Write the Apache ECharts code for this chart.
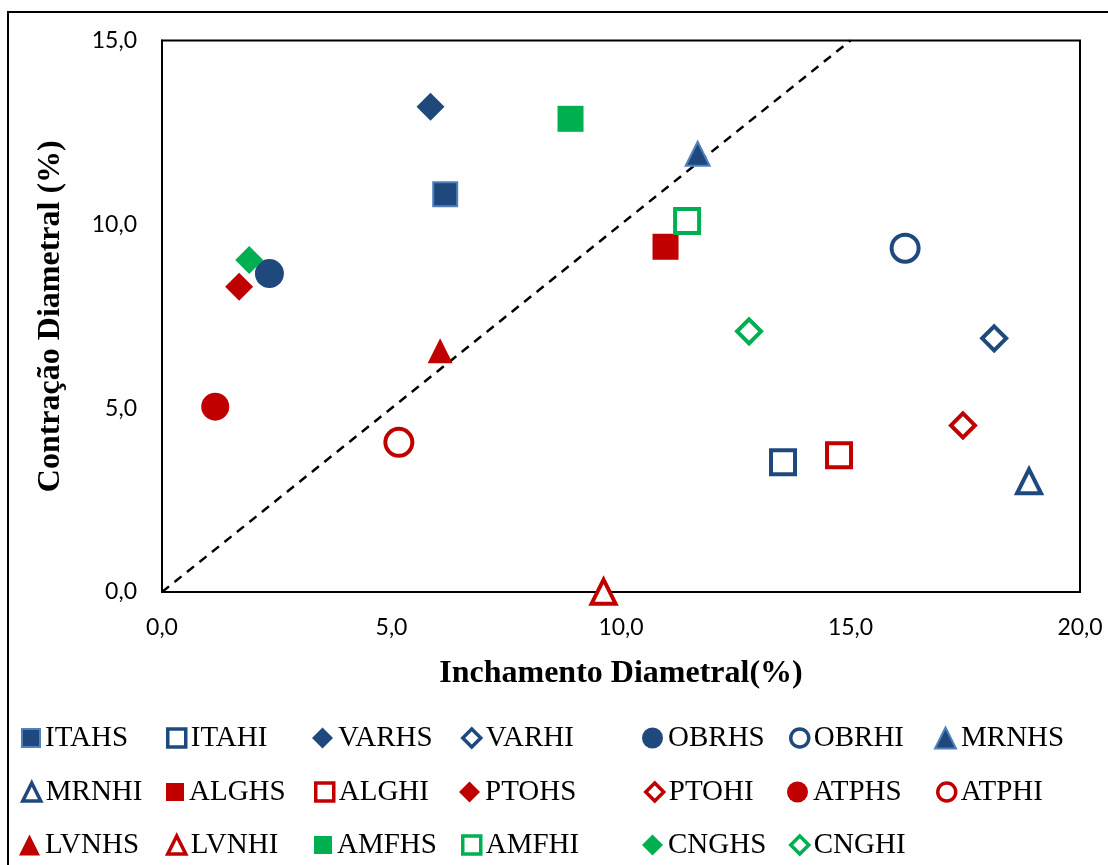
<!DOCTYPE html>
<html>
<head>
<meta charset="utf-8">
<script src="https://cdn.jsdelivr.net/npm/echarts@6/dist/echarts.min.js"></script>
<style>html,body{margin:0;padding:0;background:#fff}#c{width:1108px;height:865px}</style>
</head>
<body>
<div id="c"></div>
<script>
// Series names (legend order, row-major)
const names = ['ITAHS','ITAHI','VARHS','VARHI','OBRHS','OBRHI','MRNHS',
               'MRNHI','ALGHS','ALGHI','PTOHS','PTOHI','ATPHS','ATPHI',
               'LVNHS','LVNHI','AMFHS','AMFHI','CNGHS','CNGHI'];
// Inchamento Diametral (%) per series
const inchamento = [6.17, 13.53, 5.85, 18.13, 2.34, 16.19, 11.67,
                    18.89, 10.97, 14.75, 1.68, 17.45, 1.16, 5.16,
                    6.06, 9.62, 8.90, 11.44, 1.90, 12.79];
// Contração Diametral (%) per series
const contracao = [10.82, 3.53, 13.20, 6.90, 8.66, 9.35, 11.92,
                   3.01, 9.39, 3.72, 8.30, 4.53, 5.04, 4.07,
                   6.56, 0.01, 12.87, 10.09, 9.03, 7.09];
// Reference line y = x
const refLine = [[0, 0], [15, 15]];
const xTicks = [0, 5, 10, 15, 20];
const yTicks = [0, 5, 10, 15];

const BLUE = '#1F497D', RED = '#C00000', GREEN = '#00B050';
const styles = {
  ITAHS: {sym:'rect', size:24, color:BLUE, hollow:false, border:'#4F81BD'},
  ITAHI: {sym:'rect', size:24, color:BLUE, hollow:true},
  VARHS: {sym:'diamond', size:28, color:BLUE, hollow:false},
  VARHI: {sym:'diamond', size:24, color:BLUE, hollow:true},
  OBRHS: {sym:'circle', size:29, color:BLUE, hollow:false},
  OBRHI: {sym:'circle', size:27, color:BLUE, hollow:true},
  MRNHS: {sym:'triangle', size:24, color:BLUE, hollow:false, border:'#4F81BD'},
  MRNHI: {sym:'triangle', size:24, color:BLUE, hollow:true},
  ALGHS: {sym:'rect', size:26, color:RED, hollow:false},
  ALGHI: {sym:'rect', size:24, color:RED, hollow:true},
  PTOHS: {sym:'diamond', size:28, color:RED, hollow:false},
  PTOHI: {sym:'diamond', size:24, color:RED, hollow:true},
  ATPHS: {sym:'circle', size:28, color:RED, hollow:false},
  ATPHI: {sym:'circle', size:27, color:RED, hollow:true},
  LVNHS: {sym:'triangle', size:25, color:RED, hollow:false},
  LVNHI: {sym:'triangle', size:24, color:RED, hollow:true},
  AMFHS: {sym:'rect', size:26, color:GREEN, hollow:false},
  AMFHI: {sym:'rect', size:24, color:GREEN, hollow:true},
  CNGHS: {sym:'diamond', size:28, color:GREEN, hollow:false},
  CNGHI: {sym:'diamond', size:24, color:GREEN, hollow:true}
};

const series = names.map((n, i) => {
  const s = styles[n];
  return {
    name: n,
    type: 'scatter',
    symbol: s.sym,
    symbolSize: s.size,
    data: [[inchamento[i], contracao[i]]],
    itemStyle: s.hollow
      ? {color: '#fff', borderColor: s.color, borderWidth: 4, opacity: 1}
      : {color: s.color, borderColor: s.border || s.color, borderWidth: s.border ? 2 : 0, opacity: 1},
    z: 3
  };
});
series.push({
  name: 'ref', type: 'line', data: refLine, symbol: 'none',
  lineStyle: {color: '#000', width: 2.5, type: [9, 7]}, z: 2, silent: true
});

const colX = [21, 166, 314, 461, 644, 789, 936];
const rowY = [738, 792, 845];
const legends = names.map((n, k) => {
  const s = styles[n];
  const c = k % 7, r = Math.floor(k / 7);
  const big = !s.hollow && s.sym !== 'rect';
  const isz = big ? 21 : 18;
  return {
    left: colX[c] - (big ? 2 : 0), top: rowY[r] - 16, padding: 0,
    itemWidth: isz, itemHeight: isz, itemGap: big ? 4 : 5,
    data: [{name: n, itemStyle: s.hollow ? {borderWidth: 3.5, color: '#fff', borderColor: s.color} : {}}],
    selectedMode: false,
    textStyle: {fontFamily: 'Liberation Serif', fontSize: 29, color: '#000', lineHeight: 32}
  };
});

const chart = echarts.init(document.getElementById('c'), null, {renderer: 'canvas'});
chart.setOption({
  animation: false,
  backgroundColor: '#fff',
  graphic: [{type: 'rect', shape: {x: 8, y: 12, width: 1130, height: 880},
             style: {fill: 'none', stroke: '#000', lineWidth: 2}, silent: true, z: -1}],
  grid: {left: 162, right: 28, top: 40.5, bottom: 273, show: true, borderColor: '#000', borderWidth: 2, backgroundColor: 'transparent'},
  legend: legends,
  xAxis: {
    type: 'value', min: xTicks[0], max: xTicks[xTicks.length - 1], interval: 5,
    name: 'Inchamento Diametral(%)', nameLocation: 'middle', nameGap: 66,
    nameTextStyle: {fontFamily: 'Liberation Serif', fontWeight: 'bold', fontSize: 32, color: '#000'},
    axisLine: {lineStyle: {color: '#000', width: 2}}, axisTick: {show: false}, splitLine: {show: false},
    axisLabel: {fontFamily: 'Lato', fontSize: 23, color: '#000', margin: 24, formatter: v => v.toFixed(1).replace('.', ',')}
  },
  yAxis: {
    type: 'value', min: yTicks[0], max: yTicks[yTicks.length - 1], interval: 5,
    name: 'Contração Diametral (%)', nameLocation: 'middle', nameGap: 95, nameRotate: 90,
    nameTextStyle: {fontFamily: 'Liberation Serif', fontWeight: 'bold', fontSize: 32, color: '#000'},
    axisLine: {lineStyle: {color: '#000', width: 2}}, axisTick: {show: false}, splitLine: {show: false},
    axisLabel: {fontFamily: 'Lato', fontSize: 23, color: '#000', margin: 25, formatter: v => v.toFixed(1).replace('.', ',')}
  },
  series: series
});
</script>
</body>
</html>
